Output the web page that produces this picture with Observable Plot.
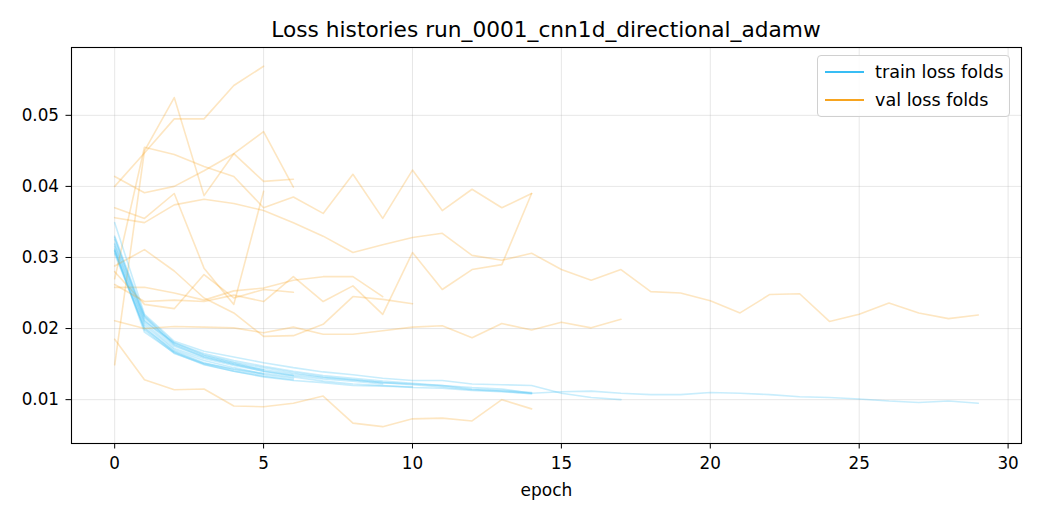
<!DOCTYPE html>
<html>
<head>
<meta charset="utf-8">
<script src="https://cdn.jsdelivr.net/npm/d3@7"></script>
<script src="https://cdn.jsdelivr.net/npm/@observablehq/plot@0.6"></script>
<style>
  html, body { margin: 0; padding: 0; background: #fff; }
  #wrap { position: relative; width: 1040px; height: 520px; font-family: "DejaVu Sans", sans-serif; }
  #title { position: absolute; left: 71px; width: 950px; top: 17px; text-align: center; font-size: 21.7px; line-height: 26px; color: #000; white-space: nowrap; }
  #legend { position: absolute; left: 817px; top: 55px; width: 191px; height: 60px; border: 1px solid #d0d0d0; border-radius: 4px; background: rgba(255,255,255,0.85); font-size: 17.6px; color: #000; }
  .row { position: absolute; left: 0; height: 22px; width: 100%; }
  .sw { position: absolute; left: 7px; width: 39px; height: 2px; }
  .lt { position: absolute; left: 57px; white-space: nowrap; line-height: 20px; }
</style>
</head>
<body>
<div id="wrap">
  <div id="chart"></div>
  <div id="title"></div>
  <div id="legend"></div>
</div>
<script>
// ---- data ----
const title = "Loss histories run_0001_cnn1d_directional_adamw";
const xLabel = "epoch";
const xTicks = [0, 5, 10, 15, 20, 25, 30];
const yTicks = [0.01, 0.02, 0.03, 0.04, 0.05];
const legendLabels = ["train loss folds", "val loss folds"];

const trainFold1 = [0.0312, 0.0205, 0.0170, 0.0155, 0.0145, 0.0136];
const trainFold2 = [0.0320, 0.0215, 0.0178, 0.0162, 0.0152, 0.0142];
const trainFold3 = [0.0310, 0.0198, 0.0165, 0.0150, 0.0140, 0.0133, 0.0128];
const trainFold4 = [0.0328, 0.0212, 0.0175, 0.0160, 0.0150, 0.0140, 0.0134];
const trainFold5 = [0.0305, 0.0200, 0.0168, 0.0152, 0.0142, 0.0135, 0.0130];
const trainFold6 = [0.0315, 0.0208, 0.0172, 0.0158, 0.0148, 0.0140, 0.0134, 0.0129, 0.0126, 0.0122];
const trainFold7 = [0.0310, 0.0195, 0.0166, 0.0149, 0.0140, 0.0132, 0.0127, 0.0124, 0.0120, 0.0119, 0.0118];
const trainFold8 = [0.0318, 0.0210, 0.0180, 0.0165, 0.0155, 0.0147, 0.0140, 0.0134, 0.0130, 0.0126, 0.0123, 0.0120, 0.0115, 0.0113, 0.0110];
const trainFold9 = [0.0325, 0.0217, 0.0177, 0.0160, 0.0150, 0.0142, 0.0136, 0.0131, 0.0128, 0.0124, 0.0121, 0.0118, 0.0114, 0.0112, 0.0108];
const trainFold10 = [0.0308, 0.0202, 0.0167, 0.0151, 0.0143, 0.0137, 0.0132, 0.0126, 0.0122, 0.0120, 0.0117, 0.0116, 0.0113, 0.0111, 0.0109];
const trainFold11 = [0.0349, 0.0220, 0.0182, 0.0168, 0.0160, 0.0152, 0.0145, 0.0139, 0.0135, 0.0130, 0.0127, 0.0127, 0.0122, 0.0121, 0.0120, 0.0109, 0.0103, 0.0100];
const trainFold12 = [0.0330, 0.0218, 0.0180, 0.0163, 0.0153, 0.0145, 0.0138, 0.0132, 0.0128, 0.0124, 0.0122, 0.0120, 0.0117, 0.0115, 0.0109, 0.0111, 0.0112, 0.0109, 0.0107, 0.0107, 0.0110, 0.0109, 0.0107, 0.0104, 0.0103, 0.0101, 0.0098, 0.0096, 0.0098, 0.0095];

const valFold1 = [0.0400, 0.0447, 0.0495, 0.0495, 0.0542, 0.0569];
const valFold2 = [0.0370, 0.0355, 0.0390, 0.0285, 0.0234, 0.0393];
const valFold3 = [0.0149, 0.0450, 0.0525, 0.0387, 0.0446, 0.0477, 0.0399];
const valFold4 = [0.0414, 0.0391, 0.0400, 0.0422, 0.0446, 0.0407, 0.0410];
const valFold5 = [0.0280, 0.0234, 0.0228, 0.0276, 0.0243, 0.0255, 0.0251];
const valFold6 = [0.0258, 0.0258, 0.0250, 0.0240, 0.0253, 0.0257, 0.0268, 0.0273, 0.0273, 0.0245];
const valFold7 = [0.0288, 0.0311, 0.0281, 0.0243, 0.0222, 0.0189, 0.0190, 0.0206, 0.0245, 0.0241, 0.0235];
const valFold8 = [0.0270, 0.0455, 0.0445, 0.0428, 0.0414, 0.0370, 0.0385, 0.0362, 0.0417, 0.0355, 0.0423, 0.0366, 0.0396, 0.0370, 0.0390];
const valFold9 = [0.0262, 0.0238, 0.0240, 0.0238, 0.0247, 0.0238, 0.0273, 0.0238, 0.0260, 0.0220, 0.0307, 0.0255, 0.0283, 0.0290, 0.0390];
const valFold10 = [0.0185, 0.0128, 0.0114, 0.0115, 0.0091, 0.0090, 0.0095, 0.0105, 0.0067, 0.0062, 0.0073, 0.0074, 0.0070, 0.0100, 0.0087];
const valFold11 = [0.0211, 0.0200, 0.0203, 0.0202, 0.0201, 0.0194, 0.0202, 0.0192, 0.0192, 0.0197, 0.0202, 0.0204, 0.0187, 0.0207, 0.0198, 0.0209, 0.0201, 0.0213];
const valFold12 = [0.0356, 0.0349, 0.0374, 0.0382, 0.0376, 0.0366, 0.0349, 0.0330, 0.0307, 0.0318, 0.0328, 0.0334, 0.0303, 0.0296, 0.0306, 0.0283, 0.0268, 0.0283, 0.0252, 0.0250, 0.0239, 0.0222, 0.0248, 0.0249, 0.0210, 0.0220, 0.0236, 0.0222, 0.0214, 0.0219];

const trainFolds = [trainFold1, trainFold2, trainFold3, trainFold4, trainFold5, trainFold6, trainFold7, trainFold8, trainFold9, trainFold10, trainFold11, trainFold12];
const valFolds = [valFold1, valFold2, valFold3, valFold4, valFold5, valFold6, valFold7, valFold8, valFold9, valFold10, valFold11, valFold12];

// ---- styles ----
const trainColor = "#38bdf4";
const valColor = "#f7a41f";

const toRows = (arr) => arr.map((loss, epoch) => ({epoch, loss}));

const lineMarks = [];
trainFolds.forEach((tr, i) => {
  lineMarks.push(Plot.line(toRows(tr), {x: "epoch", y: "loss", stroke: trainColor, strokeOpacity: 0.28, strokeWidth: 1.6}));
  lineMarks.push(Plot.line(toRows(valFolds[i]), {x: "epoch", y: "loss", stroke: valColor, strokeOpacity: 0.27, strokeWidth: 1.6}));
});

const chart = Plot.plot({
  width: 1040,
  height: 520,
  marginLeft: 71,
  marginRight: 19,
  marginTop: 47,
  marginBottom: 77,
  style: {fontFamily: "DejaVu Sans, sans-serif", fontSize: "16.8px", color: "#000", background: "#fff"},
  x: {domain: [-1.45, 30.45]},
  y: {domain: [0.00383, 0.05954]},
  marks: [
    Plot.gridX(xTicks, {stroke: "#b0b0b0", strokeOpacity: 0.35, strokeWidth: 0.9}),
    Plot.gridY(yTicks, {stroke: "#b0b0b0", strokeOpacity: 0.35, strokeWidth: 0.9}),
    ...lineMarks,
    Plot.axisX(xTicks, {tickSize: 5.5, tickPadding: 8, fontSize: 16.8, label: null, tickFormat: d => String(d)}),
    Plot.axisY(yTicks, {tickSize: 5.5, tickPadding: 7, fontSize: 16.8, label: null, tickFormat: d => d.toFixed(2)}),
    Plot.text([xLabel], {frameAnchor: "bottom", dy: 47, fontSize: 17, text: d => d, lineAnchor: "middle", fill: "#000"}),
    Plot.frame({stroke: "#000", strokeWidth: 1.1})
  ]
});
document.getElementById("chart").appendChild(chart);

document.getElementById("title").textContent = title;
const leg = document.getElementById("legend");
[trainColor, valColor].forEach((c, i) => {
  const row = document.createElement("div");
  row.className = "row";
  row.style.top = (5 + i * 27.5) + "px";
  const sw = document.createElement("div");
  sw.className = "sw";
  sw.style.background = c;
  sw.style.top = "10px";
  const lt = document.createElement("div");
  lt.className = "lt";
  lt.style.top = "1px";
  lt.textContent = legendLabels[i];
  row.appendChild(sw);
  row.appendChild(lt);
  leg.appendChild(row);
});
</script>
</body>
</html>
